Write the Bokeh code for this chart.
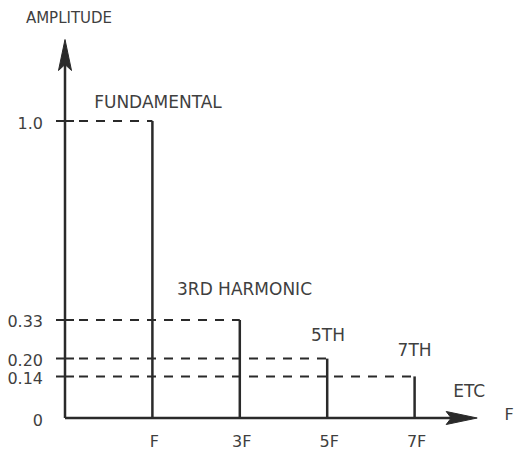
import numpy as np
from bokeh.plotting import figure
from bokeh.models import Range1d
from bokeh.core.properties import value
from bokeh.embed import file_html
from bokeh.resources import INLINE

# ---------------- data ----------------
freq_labels = ["F", "3F", "5F", "7F"]
amplitudes = [1.0, 0.33, 0.20, 0.14]
harmonic_names = ["FUNDAMENTAL", "3RD HARMONIC", "5TH", "7TH"]
amp_ticks = [0.0, 0.14, 0.20, 0.33, 1.0]
amp_tick_labels = ["0", "0.14", "0.20", "0.33", "1.0"]
y_title = "AMPLITUDE"
x_title = "F"
etc_label = "ETC"

# ---------------- layout ----------------
W, H = 523, 452
PX_X = 87.4          # pixels per harmonic slot
PX_Y = 297.0         # pixels per unit amplitude
ORIGIN_X = 64.5      # canvas px of the y axis
ORIGIN_Y = 417.5     # canvas px of the x axis (from top)

def dx(px):
    return px / PX_X

def dy(px):
    return px / PX_Y

x_start = -ORIGIN_X / PX_X
x_end = (W - ORIGIN_X) / PX_X
y_start = -(H - ORIGIN_Y) / PX_Y
y_end = ORIGIN_Y / PX_Y

LINE = "#2a2a2a"
TEXT = "#3f3f3f"
FONT = value("DejaVu Sans")

p = figure(width=W, height=H, output_backend="svg", toolbar_location=None,
           x_axis_type=None, y_axis_type=None, min_border=0,
           x_range=Range1d(x_start, x_end), y_range=Range1d(y_start, y_end))
p.outline_line_color = None
p.grid.visible = False
p.background_fill_color = "white"
p.border_fill_color = "white"

xs = [i + 1 for i in range(len(freq_labels))]

# axis extents (arrow tips)
y_tip = dy(417.5 - 39)
x_tip = dx(476.7 - 64.5)

# axes lines
p.line([0, 0], [0, y_tip - dy(12)], line_color=LINE, line_width=2.5)
p.line([0, x_tip - dx(12)], [0, 0], line_color=LINE, line_width=2.5)

# arrow heads
p.patch([0, dx(6.5), 0, -dx(6.5)],
        [y_tip, y_tip - dy(31), y_tip - dy(25), y_tip - dy(31)],
        fill_color=LINE, line_color=LINE, line_width=1)
p.patch([x_tip, x_tip - dx(31), x_tip - dx(26), x_tip - dx(31)],
        [0, dy(6.5), 0, -dy(6.5)],
        fill_color=LINE, line_color=LINE, line_width=1)

# ticks on amplitude axis
p.segment(x0=[-dx(9)] * len(amplitudes), x1=[dx(9)] * len(amplitudes),
          y0=amplitudes, y1=amplitudes, line_color=LINE, line_width=2)

# dashed guide lines
p.segment(x0=[dx(14)] * len(amplitudes), x1=xs, y0=amplitudes, y1=amplitudes,
          line_color=LINE, line_width=2, line_dash="9 8")

# spectral lines
p.segment(x0=xs, x1=xs, y0=[0] * len(xs), y1=amplitudes,
          line_color=LINE, line_width=2.5)

# tick labels
p.text(x=[-dx(22)] * len(amp_ticks), y=[t - dy(1.5) for t in amp_ticks],
       text=amp_tick_labels, text_align="right", text_baseline="middle",
       text_font=FONT, text_font_size="16px", text_color=TEXT)
p.text(x=[x + dx(2) for x in xs], y=[-dy(23.5)] * len(xs), text=freq_labels,
       text_align="center", text_baseline="middle",
       text_font=FONT, text_font_size="16px", text_color=TEXT)

# harmonic names
name_dx = [5.6, 4.7, 0.8, 0.0]
name_dy = [19.5, 31.0, 24.0, 26.0]
p.text(x=[x + dx(o) for x, o in zip(xs, name_dx)],
       y=[a + dy(o) for a, o in zip(amplitudes, name_dy)],
       text=harmonic_names, text_align="center", text_baseline="middle",
       text_font=FONT, text_font_size="17px", text_color=TEXT)

# titles
p.text(x=[dx(4)], y=[y_tip + dy(22)], text=[y_title], text_align="center",
       text_baseline="middle", text_font=FONT, text_font_size="15px",
       text_color=TEXT)
p.text(x=[x_tip + dx(32)], y=[dy(3.5)], text=[x_title], text_align="center",
       text_baseline="middle", text_font=FONT, text_font_size="16px",
       text_color=TEXT)
p.text(x=[x_tip - dx(8)], y=[dy(27.5)], text=[etc_label], text_align="center",
       text_baseline="middle", text_font=FONT, text_font_size="17px",
       text_color=TEXT)

open("out.html", "w").write(file_html(p, INLINE))
